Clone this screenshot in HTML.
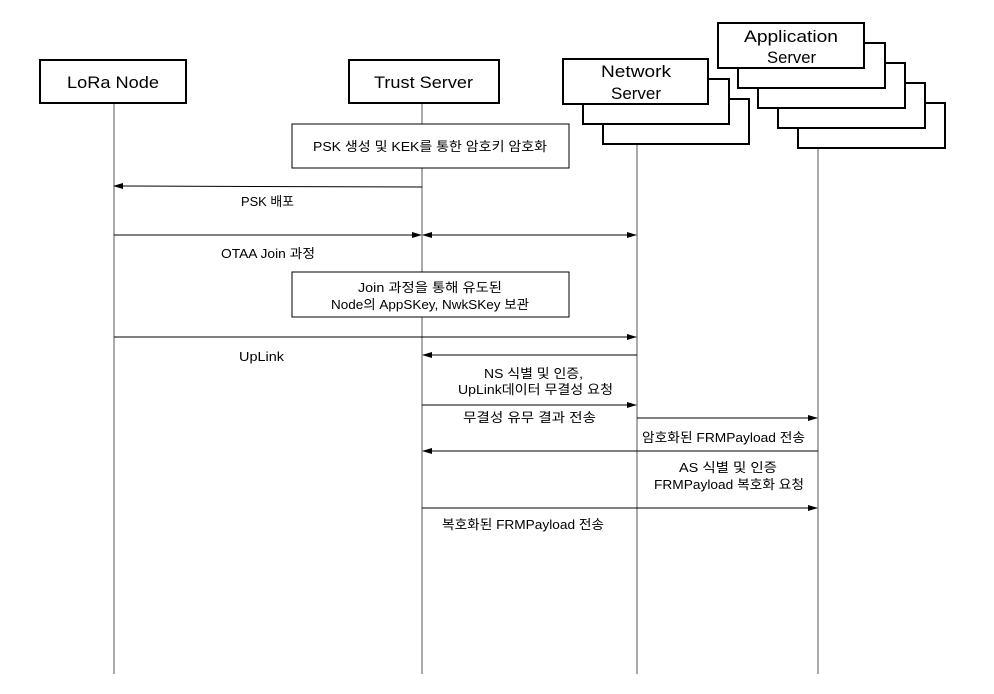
<!DOCTYPE html>
<html><head><meta charset="utf-8"><style>
html,body{margin:0;padding:0;background:#fff;}
svg{display:block;}
text{font-family:"Liberation Sans","Noto Sans CJK KR",sans-serif;fill:#000;}
.t{font-size:17px;}
.s{font-size:13px;}
</style></head><body>
<svg width="994" height="694" viewBox="0 0 994 694" xmlns="http://www.w3.org/2000/svg">
<defs><marker id="a" markerWidth="10" markerHeight="8" refX="9" refY="4" orient="auto" markerUnits="userSpaceOnUse"><path d="M0,1 L10,4 L0,7 Z" fill="#000"/></marker></defs>
<g stroke="#555" stroke-width="1">
<line x1="114" y1="103" x2="114" y2="674"/>
<line x1="422" y1="103" x2="422" y2="674"/>
<line x1="637" y1="144" x2="637" y2="674"/>
<line x1="818" y1="148" x2="818" y2="674"/>
</g>
<g fill="#fff" stroke="#000" stroke-width="2">
<rect x="40" y="60" width="146" height="43"/>
<rect x="349" y="60" width="150" height="43"/>
<rect x="603" y="99" width="146" height="45"/>
<rect x="583" y="79" width="146" height="45"/>
<rect x="563" y="59" width="145" height="45"/>
<rect x="798" y="103" width="147" height="45"/>
<rect x="778" y="83" width="147" height="45"/>
<rect x="758" y="63" width="147" height="45"/>
<rect x="738" y="43" width="147" height="45"/>
<rect x="718" y="23" width="146" height="45"/>
</g>
<g lengthAdjust="spacingAndGlyphs">
<text class="t" x="67" y="88" textLength="92" lengthAdjust="spacingAndGlyphs">LoRa Node</text>
<text class="t" x="374" y="88" textLength="99" lengthAdjust="spacingAndGlyphs">Trust Server</text>
<text class="t" x="601" y="77" textLength="70" lengthAdjust="spacingAndGlyphs">Network</text>
<text class="t" x="611" y="99" textLength="50" lengthAdjust="spacingAndGlyphs">Server</text>
<text class="t" x="744" y="42" textLength="94" lengthAdjust="spacingAndGlyphs">Application</text>
<text class="t" x="767" y="63" textLength="49" lengthAdjust="spacingAndGlyphs">Server</text>
</g>
<g fill="#fff" stroke="#000" stroke-width="1">
<rect x="292" y="124" width="277" height="44"/>
<rect x="292" y="272" width="277" height="45"/>
</g>
<text class="s" x="313" y="151" textLength="234" lengthAdjust="spacingAndGlyphs">PSK 생성 및 KEK를 통한 암호키 암호화</text>
<text class="s" x="358" y="292" textLength="144" lengthAdjust="spacingAndGlyphs">Join 과정을 통해 유도된</text>
<text class="s" x="331" y="309" textLength="198" lengthAdjust="spacingAndGlyphs">Node의 AppSKey, NwkSKey 보관</text>
<g stroke="#000" stroke-width="1" marker-end="url(#a)">
<line x1="422" y1="187" x2="114" y2="186"/>
<line x1="114" y1="235" x2="421" y2="235"/>
<line x1="423" y1="235" x2="636" y2="235"/>
<line x1="636" y1="235" x2="423" y2="235"/>
<line x1="114" y1="337" x2="636" y2="337"/>
<line x1="637" y1="355" x2="423" y2="355"/>
<line x1="422" y1="405" x2="636" y2="405"/>
<line x1="637" y1="418" x2="817" y2="418"/>
<line x1="818" y1="451" x2="423" y2="451"/>
<line x1="422" y1="508" x2="817" y2="508"/>
</g>
<text class="s" x="241" y="206" textLength="53" lengthAdjust="spacingAndGlyphs">PSK 배포</text>
<text class="s" x="221" y="258" textLength="94" lengthAdjust="spacingAndGlyphs">OTAA Join 과정</text>
<text class="s" x="239" y="361" textLength="45" lengthAdjust="spacingAndGlyphs">UpLink</text>
<text class="s" x="484" y="378" textLength="99" lengthAdjust="spacingAndGlyphs">NS 식별 및 인증,</text>
<text class="s" x="458" y="394" textLength="155" lengthAdjust="spacingAndGlyphs">UpLink데이터 무결성 요청</text>
<text class="s" x="463" y="422" textLength="133" lengthAdjust="spacingAndGlyphs">무결성 유무 결과 전송</text>
<text class="s" x="642" y="442" textLength="163" lengthAdjust="spacingAndGlyphs">암호화된 FRMPayload 전송</text>
<text class="s" x="679" y="472" textLength="98" lengthAdjust="spacingAndGlyphs">AS 식별 및 인증</text>
<text class="s" x="654" y="489" textLength="150" lengthAdjust="spacingAndGlyphs">FRMPayload 복호화 요청</text>
<text class="s" x="442" y="529" textLength="162" lengthAdjust="spacingAndGlyphs">복호화된 FRMPayload 전송</text>
</svg>
</body></html>
